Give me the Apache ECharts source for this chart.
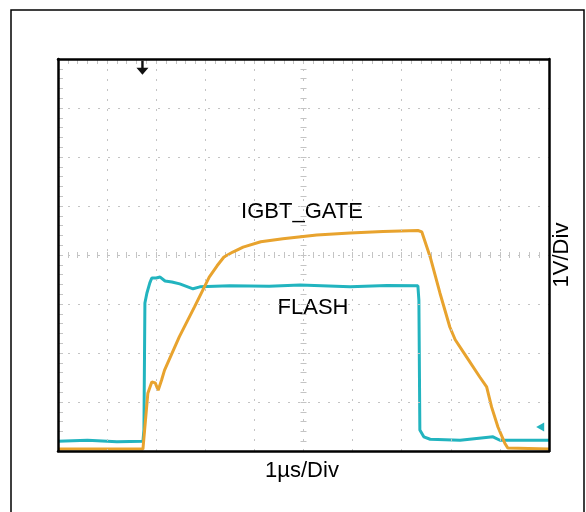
<!DOCTYPE html>
<html>
<head>
<meta charset="utf-8">
<script src="https://cdn.jsdelivr.net/npm/echarts@6/dist/echarts.min.js"></script>
<style>
  html, body { margin: 0; padding: 0; background: #fff; }
  #chart { width: 586px; height: 512px; }
</style>
</head>
<body>
<div id="chart"></div>
<script>
// time in divisions (1us/Div), voltage in divisions (1V/Div)
const gateTime = [0, 1.73, 1.83, 1.91, 1.98, 2.04, 2.11, 2.17, 2.47, 2.78, 3.08, 3.24, 3.38, 3.56, 3.77, 4.13, 4.58, 5.27, 5.95, 6.62, 7.33, 7.41, 7.58, 7.78, 7.98, 8.09, 8.32, 8.59, 8.73, 8.83, 8.96, 9.10, 9.16, 10];
const gateVolt = [0.04, 0.04, 1.18, 1.41, 1.39, 1.24, 1.45, 1.65, 2.33, 2.94, 3.55, 3.78, 3.96, 4.06, 4.16, 4.27, 4.33, 4.41, 4.45, 4.48, 4.50, 4.47, 3.96, 3.22, 2.53, 2.27, 1.92, 1.51, 1.31, 0.90, 0.49, 0.16, 0.06, 0.04];

const flashTime = [0, 0.6, 1.2, 1.73, 1.75, 1.77, 1.81, 1.87, 1.91, 2.00, 2.08, 2.18, 2.32, 2.48, 2.75, 2.89, 3.5, 4.3, 4.93, 5.95, 6.7, 7.33, 7.35, 7.37, 7.45, 7.58, 8.19, 8.86, 9.0, 10];
const flashVolt = [0.20, 0.22, 0.19, 0.20, 0.43, 3.02, 3.22, 3.43, 3.53, 3.53, 3.55, 3.47, 3.45, 3.41, 3.31, 3.35, 3.37, 3.36, 3.39, 3.35, 3.38, 3.37, 3.08, 0.43, 0.29, 0.24, 0.22, 0.29, 0.22, 0.22];

const triggerMark = [1.72, 7.82];
const flashGroundMark = [9.82, 0.49];

const gateData = gateTime.map((t, i) => [t, gateVolt[i]]);
const flashData = flashTime.map((t, i) => [t, flashVolt[i]]);

const chart = echarts.init(document.getElementById('chart'));

const gridColor = '#c4c4c4';
const font = 'Arial, "Liberation Sans", sans-serif';

// plain black frame axis
function frameAxis(pos, max) {
  return {
    type: 'value', min: 0, max: max, interval: 1, position: pos, z: 5,
    axisLine: { show: true, onZero: false, lineStyle: { color: '#000', width: 2.5 } },
    axisTick: { show: false },
    axisLabel: { show: false },
    splitLine: { show: false }
  };
}

// graticule tick marks only (no line)
function tickAxis(pos, max, offset, len) {
  return {
    type: 'value', min: 0, max: max, interval: 0.2, position: pos, offset: offset, z: 1,
    axisLine: { show: false, onZero: false },
    axisTick: { show: true, inside: true, length: len, lineStyle: { color: gridColor } },
    axisLabel: { show: false },
    splitLine: { show: false }
  };
}

const option = {
  animation: false,
  backgroundColor: '#fff',
  grid: { left: 58, top: 59, width: 491, height: 392 },
  xAxis: [
    {
      type: 'value', min: 0, max: 10, interval: 1, position: 'bottom', z: 5,
      axisLine: { show: true, onZero: false, lineStyle: { color: '#000', width: 2.5 } },
      axisTick: { show: false },
      axisLabel: { show: false },
      splitLine: { show: true, showMinLine: false, showMaxLine: false, lineStyle: { color: gridColor, type: [2, 8], width: 1 } }
    },
    frameAxis('top', 10),
    tickAxis('bottom', 10, -193, 6),
    tickAxis('top', 10, 0, 5)
  ],
  yAxis: [
    {
      type: 'value', min: 0, max: 8, interval: 1, position: 'left', z: 5,
      axisLine: { show: true, onZero: false, lineStyle: { color: '#000', width: 2.5 } },
      axisTick: { show: false },
      axisLabel: { show: false },
      splitLine: { show: true, showMinLine: false, showMaxLine: false, lineStyle: { color: gridColor, type: [2, 8], width: 1 } }
    },
    frameAxis('right', 8),
    tickAxis('left', 8, -242.5, 6),
    tickAxis('left', 8, 0, 5)
  ],
  series: [
    {
      name: 'FLASH', type: 'line', data: flashData, showSymbol: false,
      lineStyle: { color: '#22b4bf', width: 3 },
      markPoint: {
        symbol: 'triangle', symbolSize: [9, 8], symbolRotate: 90,
        itemStyle: { color: '#22b4bf' }, label: { show: false },
        data: [{ coord: flashGroundMark }]
      }
    },
    {
      name: 'IGBT_GATE', type: 'line', data: gateData, showSymbol: false,
      lineStyle: { color: '#e8a32e', width: 3 },
      markPoint: {
        symbol: 'path://M4,0 L6,0 L6,6 L10,6 L5,12 L0,6 L4,6 Z', symbolSize: [12, 14],
        itemStyle: { color: '#111' }, label: { show: false },
        data: [{ coord: triggerMark }]
      }
    }
  ],
  graphic: [
    {
      type: 'rect', shape: { x: 11, y: 10, width: 573, height: 530 }, silent: true,
      style: { fill: null, stroke: '#000', lineWidth: 1.5 }
    },
    {
      type: 'text', x: 302, y: 212,
      style: { text: 'IGBT_GATE', font: '22px ' + font, fill: '#000', align: 'center', verticalAlign: 'middle', backgroundColor: '#fff', padding: [2, 4] }
    },
    {
      type: 'text', x: 313, y: 308,
      style: { text: 'FLASH', font: '22px ' + font, fill: '#000', align: 'center', verticalAlign: 'middle', backgroundColor: '#fff', padding: [2, 4] }
    },
    {
      type: 'text', x: 302, y: 471,
      style: { text: '1µs/Div', font: '22px ' + font, fill: '#000', align: 'center', verticalAlign: 'middle' }
    },
    {
      type: 'text', x: 562, y: 255, rotation: Math.PI / 2,
      style: { text: '1V/Div', font: '22px ' + font, fill: '#000', align: 'center', verticalAlign: 'middle' }
    }
  ]
};

chart.setOption(option);
</script>
</body>
</html>
